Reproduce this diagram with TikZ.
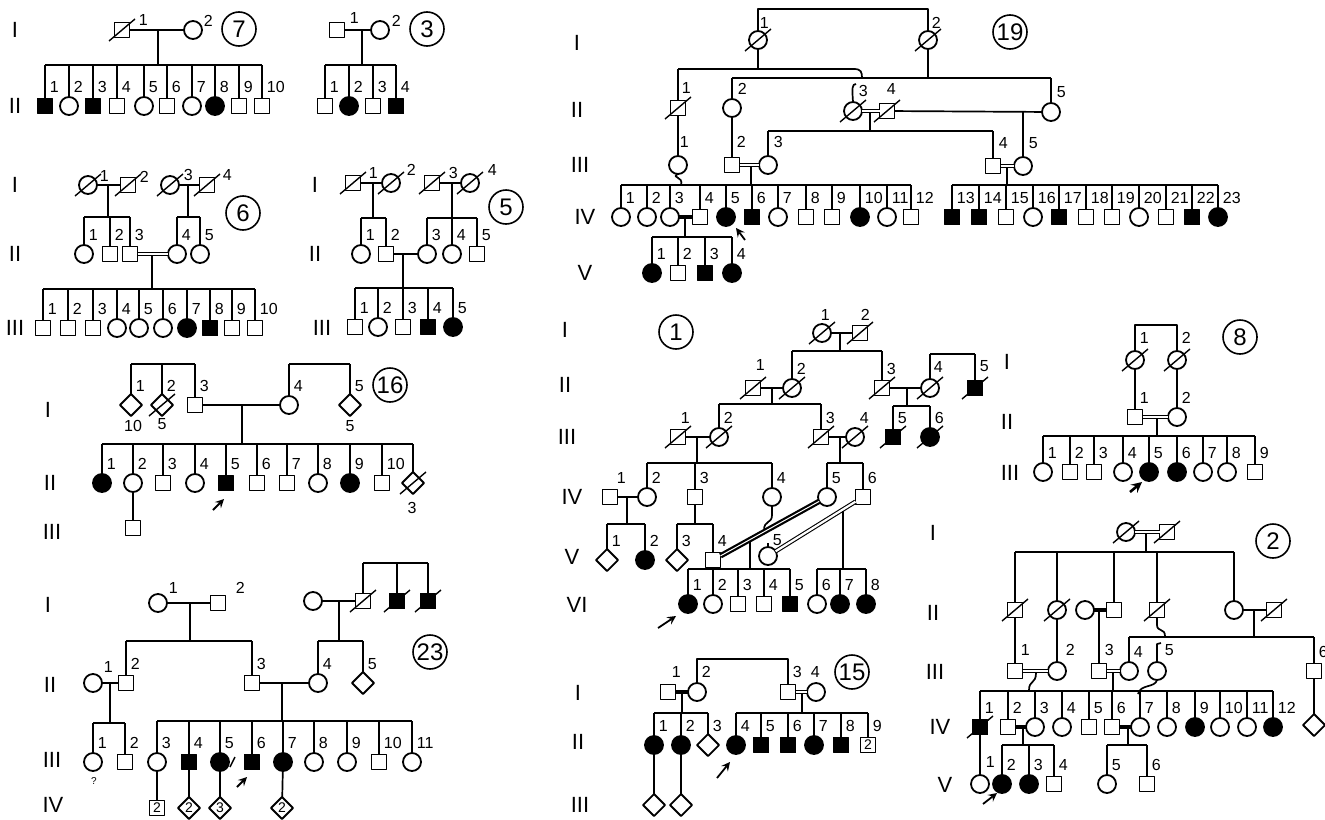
\documentclass[tikz,border=0pt]{standalone}
\usepackage{fontspec}
\setmainfont{Liberation Sans}
\usetikzlibrary{shapes.geometric}
\tikzset{
  ind/.style={draw,line width=0.9pt,inner sep=0pt,outer sep=0pt,font=\fontsize{7}{7}\selectfont},
  m/.style={ind,rectangle,minimum size=7.5pt},
  ma/.style={m,fill=black},
  f/.style={ind,circle,minimum size=9pt},
  fa/.style={f,fill=black},
  u/.style={ind,diamond,minimum size=11pt},
  num/.style={font=\fontsize{8}{8}\selectfont,inner sep=0pt,anchor=west},
  gen/.style={font=\fontsize{11}{12}\selectfont},
  fam/.style={draw,circle,line width=0.8pt,minimum size=17pt,inner sep=0pt,font=\fontsize{12}{13}\selectfont},
  dbl/.style={double,double distance=1.1pt,line width=0.55pt},
  thk/.style={line width=1.6pt},
  pb/.style={->,line width=0.9pt}
}
% Geschwisterreihe: Linie y, Symbol y, Liste name/x/stil/nummer
\newcommand{\sib}[3]{%
  \foreach \n/\x/\s/\l in {#3}{%
    \node[\s] (\n) at (\x,#2) {};
    \draw (\n.north) -- (\n.north |- 0,#1);
    \node[num] at ([shift={(2pt,9.5pt)}]\n.center) {\l};
  }}
% verstorben
\newcommand{\dead}[1]{\foreach \n in {#1}{\draw[line width=0.7pt] (\n.center) +(-6.5pt,-5.5pt) -- +(6.5pt,5.5pt);}}
\begin{document}
\begin{tikzpicture}[x=0.5pt,y=-0.5pt,line width=0.85pt,line join=round,>=stealth]
\useasboundingbox (0,0) rectangle (1325,819);
% Familie 7
\node[gen] at (15,30) {I};
\node[gen] at (15,106) {II};
\node[m] (7i1) at (122,30) {};
\node[f] (7i2) at (193,30) {};
\dead{7i1}
\node[num] at (138,20) {1};
\node[num] at (203,21) {2};
\draw (7i1) -- (7i2) (158,30) -- (158,65) (45,65) -- (262,65);
\sib{65}{106}{7a/45/ma/1,7b/69/f/2,7c/93/ma/3,7d/117/m/4,7e/144/f/5,7f/167/m/6,7g/192/f/7,7h/215/fa/8,7j/239/m/9,7k/262/m/10}
\node[fam] at (239,29) {7};
% Familie 3
\node[m] (3i1) at (337,30) {};
\node[f] (3i2) at (380,30) {};
\node[num] at (349,18) {1};
\node[num] at (391,21) {2};
\draw (3i1) -- (3i2) (362,30) -- (362,65) (325,65) -- (396,65);
\sib{65}{106}{3a/325/m/1,3b/349/fa/2,3c/373/m/3,3d/396/ma/4}
\node[fam] at (427,29) {3};
% Familie 6
\node[gen] at (15,185) {I};
\node[gen] at (15,254) {II};
\node[gen] at (15,328) {III};
\node[f] (6i1) at (88,185) {};
\node[m] (6i2) at (128,185) {};
\node[f] (6i3) at (170,185) {};
\node[m] (6i4) at (207,185) {};
\dead{6i1,6i2,6i3,6i4}
\node[num] at (99,176) {1};
\node[num] at (139,177) {2};
\node[num] at (183,175) {3};
\node[num] at (222,175) {4};
\draw (6i1) -- (6i2) (108,185) -- (108,217) (84,217) -- (130,217);
\draw (6i3) -- (6i4) (188,185) -- (188,217) (177,217) -- (200,217);
\sib{217}{254}{6ii1/84/f/1,6ii2/110/m/2,6ii3/130/m/3,6ii4/177/f/4,6ii5/200/f/5}
\draw[dbl] (6ii3) -- (6ii4);
\draw (152,256) -- (152,289) (43,289) -- (255,289);
\sib{289}{328}{6a/43/m/1,6b/68/m/2,6c/93/m/3,6d/117/f/4,6e/139/f/5,6f/163/f/6,6g/187/fa/7,6h/210/ma/8,6j/232/m/9,6k/255/m/10}
\node[fam] at (243,213) {6};
% Familie 5
\node[gen] at (315,185) {I};
\node[gen] at (315,254) {II};
\node[gen] at (322,328) {III};
\node[m] (5i1) at (353,183) {};
\node[f] (5i2) at (391,183) {};
\node[m] (5i3) at (432,183) {};
\node[f] (5i4) at (470,183) {};
\dead{5i1,5i2,5i3,5i4}
\node[num] at (368,173) {1};
\node[num] at (406,170) {2};
\node[num] at (448,173) {3};
\node[num] at (487,170) {4};
\draw (5i1) -- (5i2) (373,183) -- (373,218) (361,218) -- (386,218);
\draw (5i3) -- (5i4) (452,183) -- (452,218) (427,218) -- (477,218);
\sib{218}{254}{5ii1/361/f/1,5ii2/386/m/2,5ii3/427/f/3,5ii4/452/f/4,5ii5/477/m/5}
\draw (5ii2) -- (5ii3) (403,254) -- (403,288) (355,288) -- (453,288);
\sib{288}{327}{5a/355/m/1,5b/378/f/2,5c/403/m/3,5d/428/ma/4,5e/453/fa/5}
\node[fam] at (506,207) {5};
% Familie 16
\node[gen] at (48,410) {I};
\node[gen] at (50,483) {II};
\node[gen] at (52,532) {III};
\draw (131,364) -- (195,364) (289,364) -- (350,364);
\sib{364}{405}{16i1/131/u/1,16i2/162/u/2,16i3/195/m/3,16i4/289/f/4,16i5/350/u/5}
\dead{16i2}
\node[num,anchor=center] at (133,426) {10};
\node[num,anchor=center] at (162,424) {5};
\node[num,anchor=center] at (350,426) {5};
\draw (16i3) -- (16i4) (242,405) -- (242,444) (102,444) -- (413,444);
\sib{444}{483}{16a/102/fa/1,16b/133/f/2,16c/163/m/3,16d/195/f/4,16e/226/ma/5,16f/257/m/6,16g/287/m/7,16h/318/f/8,16j/350/fa/9,16k/382/m/10,16l/413/u/}
\dead{16l}
\node[num,anchor=center] at (412,508) {3};
\node[m] (16m) at (133,528) {};
\draw (16b) -- (16m);
\draw[pb] (213,510) -- (224,499);
\node[fam] at (390,385) {16};
% Familie 23
\node[gen] at (48,605) {I};
\node[gen] at (50,685) {II};
\node[gen] at (52,760) {III};
\node[gen] at (53,805) {IV};
\node[f] (23i1) at (158,603) {};
\node[m] (23i2) at (218,603) {};
\node[num] at (168,588) {1};
\node[num] at (235,588) {2};
\draw (23i1) -- (23i2) (190,603) -- (190,641) (126,641) -- (252,641);
\sib{641}{683}{23ii2/126/m/2,23ii3/252/m/3}
\node[f] (23ii1) at (93,683) {};
\node[num] at (103,667) {1};
\node[f] (23i3) at (313,601) {};
\node[m] (23i4) at (363,601) {};
\node[ma] (23i5) at (397,601) {};
\node[ma] (23i6) at (428,601) {};
\dead{23i4,23i5,23i6}
\draw[line width=1.2pt] (363,563) -- (428,563) (363,563) -- (23i4) (397,563) -- (23i5) (428,563) -- (23i6);
\draw (23i3) -- (23i4) (339,601) -- (339,641) (318,641) -- (363,641);
\sib{641}{683}{23ii4/318/f/4,23ii5/363/u/5}
\draw (23ii3) -- (23ii4) (282,683) -- (282,721);
\draw (23ii1) -- (23ii2) (110,683) -- (110,723) (93,723) -- (125,723);
\sib{723}{762}{23a/93/f/1,23b/125/m/2}
\node[font=\fontsize{5}{5}\selectfont] at (94,781) {?};
\draw[line width=1.2pt] (157,721) -- (412,721);
\sib{721}{762}{23c/157/f/3,23d/189/ma/4,23e/220/fa/5,23f/252/ma/6,23g/283/fa/7,23h/314/f/8,23j/347/f/9,23k/379/m/10,23l/412/f/11}
\draw[line width=0.7pt] (23e.center) +(5pt,-2.5pt) -- +(7.5pt,2.5pt);
\node[m] (23m) at (157,808) {2};
\node[u] (23n) at (189,808) {2};
\node[u] (23o) at (220,808) {3};
\node[u] (23p) at (282,808) {2};
\draw (23c) -- (23m) (23d) -- (23n) (23e) -- (23o) (23g) -- (23p);
\draw[pb] (237,787) -- (247,777);
\node[fam] at (430,652) {23};
% Familie 19
\node[gen] at (577,43) {I};
\node[gen] at (577,110) {II};
\node[gen] at (580,165) {III};
\node[gen] at (585,217) {IV};
\node[gen] at (585,273) {V};
\node[f] (19i1) at (758,40) {};
\node[f] (19i2) at (928,40) {};
\dead{19i1,19i2}
\node[num] at (759,23) {1};
\node[num] at (931,23) {2};
\draw (19i1) -- (758,9) -- (928,9) -- (19i2);
\draw (19i1) -- (758,69) (19i2) -- (928,78);
\node[m] (19ii1) at (678,108) {};
\node[f] (19ii2) at (732,108) {};
\node[f] (19ii3) at (853,111) {};
\node[m] (19ii4) at (887,111) {};
\node[f] (19ii5) at (1051,112) {};
\dead{19ii1,19ii3,19ii4}
\draw (678,69) -- (19ii1) (678,69) -- (854,69) .. controls (861,69) and (862,72) .. (862,78);
\draw (856,84) .. controls (852,84) and (852,88) .. (19ii3.north);
\draw (732,78) -- (1051,78) (732,78) -- (19ii2) (1051,78) -- (19ii5);
\node[num] at (681,88) {1};
\node[num] at (737,89) {2};
\node[num] at (858,91) {3};
\node[num] at (886,89) {4};
\node[num] at (1056,92) {5};
\node[f] (19iii1) at (678,165) {};
\node[m] (19iii2) at (732,165) {};
\node[f] (19iii3) at (768,165) {};
\node[m] (19iii4) at (993,166) {};
\node[f] (19iii5) at (1023,166) {};
\draw[dbl] (19ii3) -- (19ii4);
\draw (870,113) -- (870,131) (768,131) -- (993,131) (768,131) -- (19iii3) (993,131) -- (19iii4);
\draw (19ii4) -- (19ii5) (1023,111) -- (19iii5);
\draw (19ii1) -- (19iii1) (19ii2) -- (19iii2);
\draw (19iii1.south) .. controls (670,178) and (684,176) .. (681,185);
\node[num] at (679,142) {1};
\node[num] at (736,142) {2};
\node[num] at (773,142) {3};
\node[num] at (998,143) {4};
\node[num] at (1028,143) {5};
\draw[dbl] (19iii2) -- (19iii3);
\draw[dbl] (19iii4) -- (19iii5);
\draw (751,167) -- (751,185) (1007,168) -- (1007,185);
\draw (621,185) -- (911,185) (952,185) -- (1218,185);
\sib{185}{217}{19a/621/f/1,19b/647/f/2,19c/670/f/3,19d/700/m/4,19e/726/fa/5,19f/752/ma/6,19g/778/f/7,19h/806/m/8,19j/832/m/9,19k/860/fa/10,19l/887/f/11,19m/911/m/12}
\sib{185}{217}{19n/952/ma/13,19o/979/ma/14,19p/1006/m/15,19q/1033/f/16,19r/1059/ma/17,19s/1086/m/18,19t/1112/m/19,19u/1139/f/20,19v/1166/m/21,19w/1192/ma/22,19x/1218/fa/23}
\draw[thk] (19c) -- (19d);
\draw (685,217) -- (685,237) (652,237) -- (732,237);
\sib{237}{273}{19y/652/fa/1,19z/678/m/2,19aa/705/ma/3,19ab/732/fa/4}
\draw[pb] (745,240) -- (736,228);
\node[fam] at (1010,32) {19};
% Familie 1
\node[gen] at (565,330) {I};
\node[gen] at (565,385) {II};
\node[gen] at (567,437) {III};
\node[gen] at (572,497) {IV};
\node[gen] at (572,557) {V};
\node[gen] at (577,605) {VI};
\node[fam] at (676,332) {1};
\node[f] (1i1) at (822,333) {};
\node[m] (1i2) at (860,333) {};
\node[num] at (820,315) {1};
\node[num] at (860,315) {2};
\draw (1i1) -- (1i2) (840,333) -- (840,351) (792,351) -- (882,351);
\sib{351}{388}{1ii2/792/f/2,1ii3/882/m/3}
\node[m] (1ii1) at (753,388) {};
\node[f] (1ii4) at (930,388) {};
\node[ma] (1ii5) at (975,388) {};
\node[num] at (755,365) {1};
\node[num] at (933,367) {4};
\node[num] at (979,366) {5};
\draw (930,354) -- (975,354) (930,354) -- (1ii4) (975,354) -- (1ii5);
\dead{1i1,1i2,1ii1,1ii2,1ii3,1ii4,1ii5}
\draw (1ii1) -- (1ii2) (772,388) -- (772,404) (719,404) -- (821,404);
\draw (1ii3) -- (1ii4) (907,388) -- (907,406) (893,406) -- (930,406);
\sib{406}{437}{1iii5/893/ma/5,1iii6/930/fa/6}
\sib{404}{437}{1iii2/719/f/2,1iii3/821/m/3}
\node[m] (1iii1) at (678,437) {};
\node[f] (1iii4) at (855,437) {};
\node[num] at (680,418) {1};
\node[num] at (859,418) {4};
\dead{1iii1,1iii2,1iii3,1iii4,1iii5,1iii6}
\draw (1iii1) -- (1iii2) (697,437) -- (697,463) (647,463) -- (772,463);
\draw (1iii3) -- (1iii4) (840,437) -- (840,463) (827,463) -- (863,463);
\sib{463}{497}{1iv2/647/f/2,1iv3/695/m/3,1iv4/772/f/4}
\sib{463}{497}{1iv5/827/f/5,1iv6/863/m/6}
\node[m] (1iv1) at (610,497) {};
\node[num] at (616,478) {1};
\draw (1iv1) -- (1iv2) (627,497) -- (627,524) (607,524) -- (645,524);
\sib{524}{560}{1v1/607/u/1,1v2/645/fa/2}
\draw (1iv3) -- (695,524) (677,524) -- (713,524);
\sib{524}{560}{1v3/677/u/3,1v4/713/m/4}
\node[f] (1v5) at (768,556) {};
\node[num] at (772,540) {5};
\draw (1v5.north) -- (768,543);
\draw (1iv4.south) -- (772,515) .. controls (772,524) and (764,520) .. (764,530);
\draw[double,double distance=0.5pt,line width=1.1pt] (1v4) -- (1iv5);
\draw[dbl] (1iv6) -- (1v5);
\draw (750,541) -- (750,569) (843,511) -- (843,569);
\draw (688,569) -- (790,569) (817,569) -- (866,569);
\sib{569}{604}{1vi1/688/fa/1,1vi2/713/f/2,1vi3/738/m/3,1vi4/764/m/4,1vi5/790/ma/5}
\sib{569}{604}{1vi6/817/f/6,1vi7/840/fa/7,1vi8/866/fa/8}
\draw[pb] (658,628) -- (676,616);
% Familie 8
\node[gen] at (1007,362) {I};
\node[gen] at (1007,422) {II};
\node[gen] at (1010,473) {III};
\node[fam] at (1240,337) {8};
\node[f] (8i1) at (1135,360) {};
\node[f] (8i2) at (1177,360) {};
\dead{8i1,8i2}
\draw (8i1) -- (1135,325) -- (1177,325) -- (8i2);
\node[num] at (1139,338) {1};
\node[num] at (1181,338) {2};
\node[m] (8ii1) at (1135,417) {};
\node[f] (8ii2) at (1177,417) {};
\draw (8i1) -- (8ii1) (8i2) -- (8ii2);
\node[num] at (1139,398) {1};
\node[num] at (1181,398) {2};
\draw[dbl] (8ii1) -- (8ii2);
\draw (1157,419) -- (1157,436) (1043,436) -- (1255,436);
\sib{436}{472}{8a/1043/f/1,8b/1070/m/2,8c/1094/m/3,8d/1123/f/4,8e/1149/fa/5,8f/1177/fa/6,8g/1203/f/7,8h/1227/f/8,8j/1255/m/9}
\draw[pb,line width=1.3pt] (1130,492) -- (1142,482);
% Familie 2
\node[gen] at (933,533) {I};
\node[gen] at (933,613) {II};
\node[gen] at (935,672) {III};
\node[gen] at (940,727) {IV};
\node[gen] at (945,785) {V};
\node[fam] at (1273,541) {2};
\node[f] (2i1) at (1126,532) {};
\node[m] (2i2) at (1167,532) {};
\draw[dbl] (2i1) -- (2i2);
\draw (1146,534) -- (1146,552) (1015,552) -- (1234,552);
\sib{552}{610}{2ii1/1015/m/,2ii2/1057/f/,2ii3/1114/m/,2ii4/1157/m/,2ii5/1234/f/}
\node[f] (2ii3w) at (1085,610) {};
\node[m] (2ii6) at (1274,610) {};
\dead{2i1,2i2,2ii1,2ii2,2ii4,2ii6}
\draw[thk] (2ii3w) -- (2ii3);
\draw (2ii5) -- (2ii6) (1254,610) -- (1254,637) (1129,637) -- (1314,637);
\draw (2ii4.south) -- (1157,625) .. controls (1157,632) and (1165,628) .. (1165,636);
\node[m] (2iii1) at (1015,671) {};
\node[f] (2iii2) at (1057,671) {};
\node[m] (2iii3) at (1099,671) {};
\node[f] (2iii5) at (1157,671) {};
\sib{637}{671}{2iii4/1129/f/4,2iii6/1314/m/6}
\draw (2ii1) -- (2iii1) (2ii2) -- (2iii2) (1099,610) -- (2iii3);
\draw (2iii5.north) -- (1157,644) -- (1161,643);
\node[num] at (1020,650) {1};
\node[num] at (1065,650) {2};
\node[num] at (1104,650) {3};
\node[num] at (1164,650) {5};
\draw[dbl] (2iii1) -- (2iii2);
\draw (1036,673) .. controls (1036,684) and (1029,680) .. (1029,690);
\draw[dbl] (2iii3) -- (2iii4);
\draw (1113,673) -- (1113,691) (980,691) -- (1273,691);
\draw (2iii5.south) .. controls (1155,688) and (1140,684) .. (1138,694);
\sib{691}{727}{2iv1/980/ma/1,2iv2/1008/m/2,2iv3/1035/f/3,2iv4/1062/f/4,2iv5/1089/m/5,2iv6/1112/m/6,2iv7/1140/f/7,2iv8/1167/f/8,2iv9/1195/fa/9,2iv10/1220/f/10,2iv11/1247/f/11,2iv12/1273/fa/12}
\dead{2iv1}
\node[u] (2iv13) at (1314,725) {};
\draw (2iii6) -- (2iv13);
\draw[thk] (2iv2) -- (2iv3);
\draw (1023,727) -- (1023,745) (1002,745) -- (1054,745);
\sib{745}{784}{2v2/1002/fa/2,2v3/1029/fa/3,2v4/1054/m/4}
\node[f] (2v1) at (980,784) {};
\draw (2iv1) -- (2v1);
\node[num] at (985,762) {1};
\draw[thk] (2iv6) -- (2iv7);
\draw (1128,727) -- (1128,745) (1107,745) -- (1147,745);
\sib{745}{784}{2v5/1107/f/5,2v6/1147/m/6}
\draw[pb] (983,804) -- (997,793);
% Familie 15
\node[gen] at (578,693) {I};
\node[gen] at (578,742) {II};
\node[gen] at (580,805) {III};
\node[fam] at (852,672) {15};
\node[m] (15i1) at (668,692) {};
\node[f] (15i2) at (697,692) {};
\node[m] (15i3) at (788,692) {};
\node[f] (15i4) at (816,692) {};
\draw (15i2) -- (697,659) -- (788,659) -- (15i3);
\node[num] at (671,672) {1};
\node[num] at (701,672) {2};
\node[num] at (792,672) {3};
\node[num] at (810,672) {4};
\draw[thk] (15i1) -- (15i2);
\draw (682,692) -- (682,713) (654,713) -- (708,713);
\draw[dbl] (15i3) -- (15i4);
\draw (802,694) -- (802,713) (736,713) -- (868,713);
\sib{713}{745}{15a/654/fa/1,15b/681/fa/2,15c/708/u/3}
\sib{713}{745}{15d/736/fa/4,15e/761/ma/5,15f/788/ma/6,15g/814/fa/7,15h/841/ma/8,15j/868/m/9}
\node[font=\fontsize{7}{7}\selectfont,inner sep=0pt] at (868,745) {2};
\node[u] (15k) at (654,805) {};
\node[u] (15l) at (681,805) {};
\draw (15a) -- (15k) (15b) -- (15l);
\draw[pb] (717,778) -- (730,762);
\end{tikzpicture}
\end{document}
